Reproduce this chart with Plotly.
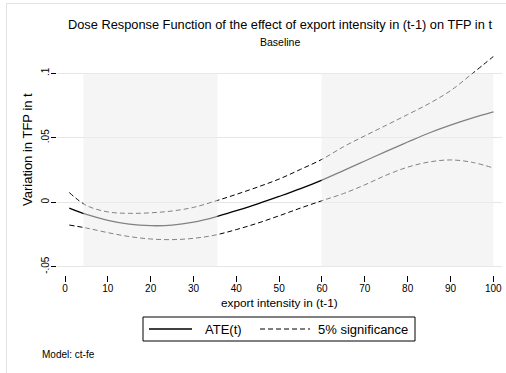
import plotly.graph_objects as go

# Export intensity grid (percent) and estimated dose-response values
export_intensity = [1, 5, 10, 15, 20, 25, 30, 35, 40, 45, 50,
                    55, 60, 65, 70, 75, 80, 85, 90, 95, 100]
ate = [-0.0045, -0.0095, -0.0140, -0.0170, -0.0182, -0.0178, -0.0155, -0.0115,
       -0.0065, -0.0012, 0.0045, 0.0105, 0.0172, 0.0245, 0.0320, 0.0395,
       0.0467, 0.0537, 0.0598, 0.0652, 0.0700]
upper = [0.0075, -0.0025, -0.0075, -0.0086, -0.0082, -0.0068, -0.0040, 0.0008,
         0.0061, 0.0118, 0.0180, 0.0255, 0.0333, 0.0430, 0.0515, 0.0597,
         0.0680, 0.0765, 0.0865, 0.0995, 0.1130]
lower = [-0.0177, -0.0200, -0.0236, -0.0266, -0.0285, -0.0290, -0.0280, -0.0255,
         -0.0212, -0.0162, -0.0105, -0.0045, 0.0012, 0.0067, 0.0135, 0.0210,
         0.0272, 0.0312, 0.0328, 0.0310, 0.0266]

# Highlighted intervals of export intensity
bands = [(4.3, 35.6), (59.9, 100)]

x_ticks = list(range(0, 101, 10))
y_ticks = [-0.05, 0, 0.05, 0.1]
y_tick_text = ["-.05", "0", ".05", ".1"]

legend_labels = ["ATE(t)", "5% significance"]

FONT = "Liberation Sans, Arial, sans-serif"
DASH = "5px,3px"

fig = go.Figure()
fig.add_trace(go.Scatter(
    x=export_intensity, y=ate, mode="lines", name=legend_labels[0],
    line=dict(color="black", width=1.3, shape="spline"),
))
for bound in (upper, lower):
    fig.add_trace(go.Scatter(
        x=export_intensity, y=bound, mode="lines", name=legend_labels[1],
        line=dict(color="black", width=1, dash=DASH, shape="spline"),
    ))

# Translucent bands drawn over the curves
for x0, x1 in bands:
    fig.add_shape(type="rect", xref="x", yref="y", x0=x0, x1=x1,
                  y0=-0.05, y1=0.1, layer="above", line=dict(width=0),
                  fillcolor="rgba(236,236,236,0.55)")

# Plot area geometry in pixels
W, H = 506, 373
L, R, T, B = 57, 502, 55, 275
pw, ph = R - L, B - T


def px(xp):
    return (xp - L) / pw


def py(yp):
    return (B - yp) / ph


# light outer frame
frame = dict(color="#e3e3e3", width=1)
fig.add_shape(type="line", xref="paper", yref="paper",
              x0=px(6), x1=px(506), y0=py(3.5), y1=py(3.5), line=frame)
fig.add_shape(type="line", xref="paper", yref="paper",
              x0=px(6.5), x1=px(6.5), y0=py(3.5), y1=py(373), line=frame)


def note(text, x, y, size, **kw):
    fig.add_annotation(text=text, xref="paper", yref="paper", x=px(x), y=py(y),
                       showarrow=False, xanchor=kw.pop("xanchor", "center"),
                       yanchor="middle", font=dict(size=size, color="black", family=FONT), **kw)


note("Dose Response Function of the effect of export intensity in (t-1) on TFP in t", 280, 25, 12.8)
note("Baseline", 280, 42, 10.5)
note("Variation in TFP in t", 27, 150, 13, textangle=-90)
note("export intensity in (t-1)", 279, 302.5, 11.8)
note("Model: ct-fe", 40, 354, 10, xanchor="left")

# Legend box drawn in pixel positions
fig.add_shape(type="rect", xref="paper", yref="paper",
              x0=px(143), x1=px(415), y0=py(317), y1=py(341),
              line=dict(color="black", width=1), fillcolor="white")
fig.add_shape(type="line", xref="paper", yref="paper",
              x0=px(149), x1=px(192), y0=py(329), y1=py(329),
              line=dict(color="black", width=1.3))
fig.add_shape(type="line", xref="paper", yref="paper",
              x0=px(260), x1=px(310), y0=py(329), y1=py(329),
              line=dict(color="black", width=1, dash=DASH))
note(legend_labels[0], 203, 329.5, 13, xanchor="left")
note(legend_labels[1], 316, 329.5, 13, xanchor="left")

xr0 = -8 / 4.283
xr1 = (R - 65) / 4.283
upp = 1290.0
yr0 = -0.05 - (B - 266.7) / upp
yr1 = 0.1 + (73.3 - T) / upp

fig.update_layout(
    width=W, height=H,
    margin=dict(l=L, r=W - R, t=T, b=H - B, pad=0),
    paper_bgcolor="white", plot_bgcolor="white",
    font=dict(family=FONT, color="black", size=10),
    showlegend=False,
    xaxis=dict(range=[xr0, xr1], tickvals=x_ticks, ticks="outside", ticklen=6,
               tickcolor="black", tickwidth=1, showgrid=False, zeroline=False,
               showline=False, tickfont=dict(size=10), ticklabelstandoff=-2),
    yaxis=dict(range=[yr0, yr1], tickvals=y_ticks, ticktext=y_tick_text,
               ticks="outside", ticklen=5, tickcolor="black", tickwidth=1,
               tickangle=-90, showgrid=True, gridcolor="#e6e6e6", gridwidth=1,
               zeroline=False, showline=False, tickfont=dict(size=10),
               ticklabelstandoff=-2),
)

fig.write_html("out.html")
